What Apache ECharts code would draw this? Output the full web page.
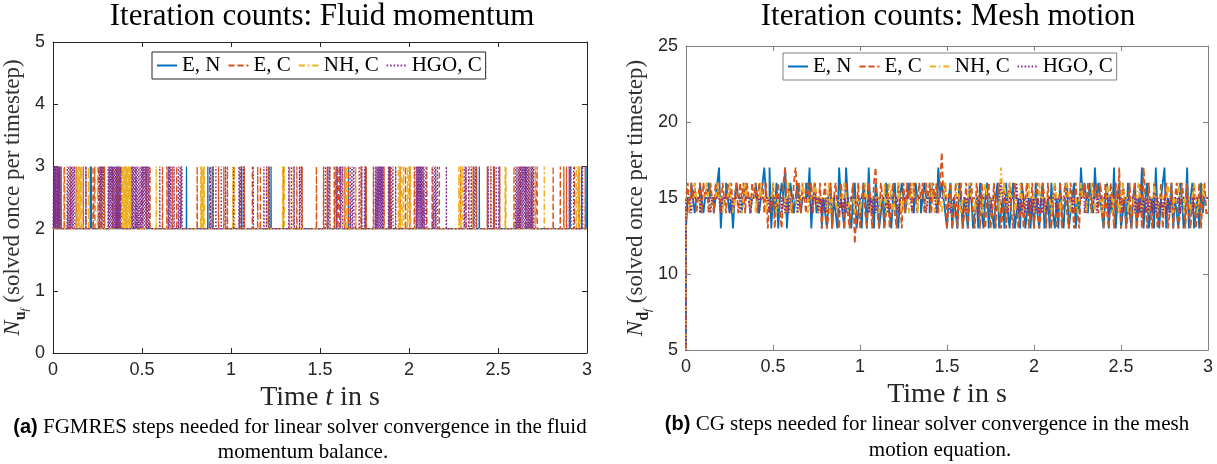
<!DOCTYPE html>
<html>
<head>
<meta charset="utf-8">
<script src="https://cdn.jsdelivr.net/npm/echarts@6/dist/echarts.min.js"></script>
<style>
  html, body { margin: 0; padding: 0; background: #fff; }
  #chart { width: 1217px; height: 464px; }
</style>
</head>
<body>
<div id="chart"></div>
<script>
// ---- panel (a): times (s) at which FGMRES needed 3 steps instead of 2 ----
var aEN = [0.045, 0.21, 0.215, 0.36, 0.75, 0.87, 0.895, 1.06, 1.225, 1.66, 1.755, 1.89, 2.395, 2.905, 2.97, 2.995];
var aEC = [0.025, 0.045, 0.065, 0.1, 0.13, 0.17, 0.185, 0.225, 0.235, 0.255, 0.27, 0.29, 0.335, 0.355, 0.37, 0.38,
  0.41, 0.44, 0.465, 0.5, 0.525, 0.545, 0.615, 0.64, 0.67, 0.695, 0.72, 0.81, 0.88, 0.93, 0.96, 0.98,
  1.05, 1.075, 1.12, 1.15, 1.165, 1.21, 1.295, 1.37, 1.4, 1.48, 1.52, 1.54, 1.58, 1.59, 1.6, 1.61,
  1.64, 1.66, 1.7, 1.73, 1.76, 1.8, 1.86, 1.895, 1.95, 1.98, 2.005, 2.03, 2.08, 2.1, 2.13, 2.17,
  2.29, 2.32, 2.36, 2.38, 2.44, 2.48, 2.51, 2.59, 2.625, 2.655, 2.69, 2.71, 2.72, 2.81, 2.85, 2.87,
  2.885, 2.93, 2.955, 2.99];
var aNH = [0.015, 0.06, 0.135, 0.14, 0.145, 0.15, 0.155, 0.16, 0.2, 0.25, 0.28, 0.39, 0.395, 0.4, 0.405, 0.41,
  0.415, 0.42, 0.425, 0.43, 0.435, 0.44, 0.58, 0.83, 0.835, 0.84, 0.845, 0.85, 0.9, 1.01, 1.02, 1.2,
  1.29, 1.3, 1.33, 1.35, 1.555, 1.63, 1.65, 1.7, 1.94, 1.95, 1.96, 1.97, 1.99, 2.0, 2.01, 2.28,
  2.29, 2.3, 2.34, 2.36, 2.46, 2.54, 2.545, 2.62, 2.67, 2.71, 2.76, 2.94, 2.95, 2.96];
var aHGO = [0.004, 0.008, 0.012, 0.016, 0.02, 0.024, 0.028, 0.032, 0.036, 0.04,
  0.08, 0.088, 0.095, 0.105, 0.112, 0.12, 0.185, 0.26, 0.268, 0.275, 0.283,
  0.31, 0.316, 0.322, 0.328, 0.334, 0.34, 0.346, 0.352, 0.358, 0.364, 0.37, 0.376, 0.382,
  0.445, 0.452, 0.46, 0.468, 0.475, 0.482, 0.49, 0.498, 0.505, 0.512, 0.52, 0.528, 0.535, 0.54,
  0.6, 0.648, 0.655, 0.662, 0.68, 0.705, 0.715, 0.725, 0.885, 0.9, 0.915, 0.945, 0.97,
  1.015, 1.045, 1.055, 1.07, 1.125, 1.185, 1.2, 1.215, 1.325, 1.34, 1.355, 1.385, 1.395,
  1.53, 1.545, 1.555, 1.595, 1.615, 1.625, 1.67, 1.68, 1.69, 1.72, 1.735, 1.75,
  1.81, 1.815, 1.82, 1.825, 1.83, 1.835, 1.84, 1.845, 1.85, 1.855, 1.885, 1.9, 1.91, 1.925,
  2.04, 2.045, 2.05, 2.055, 2.06, 2.065, 2.07, 2.075, 2.085, 2.095, 2.135, 2.145, 2.15, 2.16, 2.21,
  2.31, 2.32, 2.335, 2.35, 2.365, 2.375, 2.445, 2.46, 2.475, 2.49, 2.505,
  2.6, 2.607, 2.614, 2.62, 2.627, 2.634, 2.64, 2.647, 2.654, 2.66, 2.667, 2.674, 2.68, 2.687, 2.694, 2.7,
  2.9, 2.91, 2.925, 2.975];

// ---- panel (b): CG steps, one value every 0.01 s from t = 0 to 3 (one row = 0.2 s) ----
var bEN = [
  4,13,15,15,16,15,14,15,15,16,15,14,15,15,16,15,15,14,15,16,
  17,13,15,15,16,15,14,15,13,15,16,15,15,14,15,16,15,15,14,15,
  15,16,15,14,15,16,17,15,15,17,13,15,14,16,13,15,16,15,17,13,
  15,16,15,14,15,16,15,14,15,15,16,15,17,13,15,16,14,15,15,13,
  15,14,13,15,16,13,15,14,13,17,15,14,13,17,15,14,13,15,16,13,
  14,15,13,16,15,13,17,14,15,13,16,15,13,14,15,13,16,15,14,13,
  15,16,14,13,15,16,15,14,15,16,15,15,14,16,15,15,14,15,16,15,
  15,14,16,15,15,14,17,15,16,15,14,13,15,16,13,15,14,13,16,15,
  13,15,14,13,16,15,13,14,15,13,16,14,13,15,16,13,15,14,13,15,
  16,13,14,15,13,16,14,13,15,16,13,14,15,13,16,15,13,14,15,13,
  15,13,16,14,13,15,16,13,14,15,13,16,14,13,15,13,16,14,13,15,
  16,13,14,15,16,13,15,14,17,15,16,15,14,16,15,14,17,15,16,15,
  14,13,15,16,13,15,14,17,13,15,16,13,14,15,13,16,14,13,15,16,
  13,15,14,17,13,15,16,13,14,15,13,17,14,13,15,16,17,13,15,14,
  16,13,15,14,13,16,15,13,14,17,13,15,16,13,14,15,13,16,14,15,
  15];
var bEC = [
  4,15,16,14,16,15,16,14,15,16,14,16,15,16,14,16,15,14,16,15,
  16,14,16,15,14,16,15,16,14,15,16,14,16,15,16,14,16,15,14,16,
  15,16,14,16,15,16,14,16,13,15,14,16,13,15,16,14,13,16,17,14,
  16,15,14,16,17,15,16,14,16,15,14,16,15,16,14,16,15,14,16,13,
  15,16,13,14,16,13,15,16,14,13,16,15,13,16,14,13,15,16,12,14,
  16,13,15,16,14,13,16,15,13,16,17,14,13,16,15,13,14,16,13,15,
  16,14,13,16,15,13,16,14,16,15,16,14,16,15,14,16,15,16,14,16,
  15,16,14,16,15,16,14,16,18,15,16,13,15,16,13,14,16,13,15,16,
  13,14,16,13,15,16,14,13,16,15,13,16,14,13,15,16,13,14,16,13,
  15,16,13,14,16,13,15,16,14,13,16,15,13,14,16,13,15,16,13,14,
  16,13,15,16,13,14,16,15,13,16,14,13,15,16,13,14,16,13,15,16,
  14,13,16,15,13,16,14,13,16,15,16,14,16,15,14,16,15,16,14,16,
  15,13,16,14,13,16,15,13,16,14,17,13,16,15,13,14,16,13,15,16,
  13,14,16,13,17,15,13,16,14,13,16,15,13,14,16,13,15,16,13,14,
  16,13,15,16,13,14,16,15,13,16,14,13,15,16,13,14,16,13,15,16,
  14];
var bNH = [
  4,15,15,14,15,15,16,15,15,14,15,15,15,16,15,14,15,15,15,16,
  15,15,14,15,15,15,16,15,14,15,15,15,15,14,15,16,15,15,14,15,
  15,14,15,15,16,15,15,14,15,15,15,16,15,14,15,15,15,15,14,15,
  16,14,15,15,15,14,15,15,16,15,15,14,15,15,15,16,15,14,15,15,
  15,15,14,16,14,15,15,15,14,15,15,15,16,15,14,15,15,15,14,15,
  15,14,15,15,16,15,15,14,15,15,15,15,14,15,15,16,14,15,16,15,
  14,15,15,16,15,14,15,15,15,14,15,16,15,15,14,15,15,15,15,14,
  15,15,16,15,14,15,15,15,14,15,16,15,15,14,15,15,15,16,15,14,
  15,15,14,15,16,15,15,14,15,15,15,14,15,16,15,15,14,15,15,15,
  15,14,17,15,16,15,14,16,15,15,14,15,15,16,15,14,15,15,16,15,
  15,14,15,15,16,15,15,14,15,15,15,14,15,16,15,15,14,15,15,15,
  16,15,14,15,15,15,14,15,16,15,15,14,15,15,16,15,14,15,15,15,
  14,15,15,16,15,15,14,15,15,15,14,15,16,15,15,14,15,15,15,14,
  15,16,15,14,15,15,15,14,15,15,16,15,14,15,15,15,14,15,16,15,
  15,14,15,15,16,15,15,14,15,15,15,14,15,16,15,14,15,15,16,15,
  15];
var bHGO = [
  4,15,15,15,14,15,15,15,15,14,15,15,15,15,15,14,15,15,15,15,
  15,14,15,15,15,15,15,14,15,15,15,15,14,15,15,15,15,15,14,15,
  15,15,15,14,15,15,15,15,15,14,15,15,15,15,15,15,14,15,14,15,
  14,15,15,15,15,14,15,15,15,15,15,15,15,14,15,15,15,14,15,14,
  15,14,15,15,15,15,15,15,15,14,15,14,15,14,15,15,15,15,15,15,
  15,15,15,15,15,15,14,15,14,15,14,15,15,15,15,15,15,14,15,15,
  15,15,15,14,15,15,15,15,15,15,15,14,15,15,15,15,15,15,15,14,
  15,15,15,15,15,14,15,15,15,15,15,15,15,14,15,15,15,15,15,15,
  15,15,14,15,15,15,15,15,15,14,15,15,15,15,15,15,14,15,15,15,
  15,15,16,15,15,15,14,15,15,15,15,16,14,15,14,15,14,15,14,15,
  14,15,14,15,14,15,14,15,14,15,15,15,15,15,14,15,15,15,15,15,
  15,15,15,14,15,15,15,15,15,15,14,15,15,15,15,15,15,14,15,15,
  15,15,15,15,14,15,15,15,15,15,15,15,14,15,15,15,15,15,15,14,
  15,14,15,14,15,14,15,14,15,14,15,14,15,14,15,14,15,14,15,14,
  15,15,15,15,15,14,15,15,15,15,15,15,14,15,15,15,15,15,15,15,
  15];
var bStep = 0.01;

var names = ['E, N', 'E, C', 'NH, C', 'HGO, C'];
var colors = ['#0072BD', '#D95319', '#EDB120', '#7E2F8E'];
var dashes = ['solid', [6, 3], [6, 3, 1.5, 3], [1.5, 2]];

// baseline of 2 with a short pulse up to 3 at each listed time
function pulses(times) {
    var d = [[0, 2]];
    times.forEach(function (t) {
        d.push([t - 0.001, 2], [t, 3], [t + 0.001, 2]);
    });
    d.push([3, 2]);
    return d;
}

function steps(vals) {
    return vals.map(function (v, i) { return [i * bStep, v]; });
}

var serif = 'Liberation Serif';
var sans = 'Liberation Sans';

function xAxes(grid, frame) {
    return [{
        gridIndex: grid, type: 'value', min: 0, max: 3, interval: 0.5,
        axisLine: { show: true, onZero: false, lineStyle: { color: frame, width: 1 } },
        axisTick: { show: true, inside: true, length: 5, lineStyle: { color: frame } },
        axisLabel: { color: '#262626', fontSize: 18, fontFamily: sans, margin: 8, showMinLabel: true, showMaxLabel: true },
        splitLine: { show: false },
        name: '{r|Time }{i|t}{r| in s}', nameLocation: 'middle', nameGap: 24,
        nameTextStyle: {
            color: '#262626', fontFamily: serif, fontSize: 28,
            rich: {
                r: { fontFamily: serif, fontSize: 28, color: '#262626' },
                i: { fontFamily: serif, fontSize: 28, fontStyle: 'italic', color: '#262626' }
            }
        }
    }, {
        gridIndex: grid, type: 'value', min: 0, max: 3, interval: 0.5, position: 'top',
        axisLine: { show: true, onZero: false, lineStyle: { color: frame, width: 1 } },
        axisTick: { show: true, inside: true, length: 5, lineStyle: { color: frame } },
        axisLabel: { show: false }, splitLine: { show: false }
    }];
}

function yAxes(grid, frame, min, max, interval, sub) {
    var rich = {
        n: { fontFamily: serif, fontSize: 23, fontStyle: 'italic', color: '#262626', verticalAlign: 'bottom', padding: [0, 0, 7, 0] },
        s: { fontFamily: serif, fontSize: 16, fontWeight: 'bold', color: '#262626', verticalAlign: 'bottom', padding: [0, 0, 2, 0] },
        f: { fontFamily: serif, fontSize: 11, fontStyle: 'italic', color: '#262626', verticalAlign: 'bottom', padding: [0, 0, 0, 0] },
        r: { fontFamily: serif, fontSize: 23, color: '#333', verticalAlign: 'bottom', padding: [0, 0, 7, 0] }
    };
    return [{
        gridIndex: grid, type: 'value', min: min, max: max, interval: interval,
        axisLine: { show: true, onZero: false, lineStyle: { color: frame, width: 1 } },
        axisTick: { show: true, inside: true, length: 5, lineStyle: { color: frame } },
        axisLabel: { color: '#262626', fontSize: 18, fontFamily: sans, margin: 8, showMinLabel: true, showMaxLabel: true },
        splitLine: { show: false },
        name: '{n|N}{s|' + sub + '}{f|f}{r| (solved once per timestep)}',
        nameLocation: 'middle', nameGap: 12,
        nameTextStyle: { fontFamily: serif, fontSize: 23, color: '#262626', rich: rich }
    }, {
        gridIndex: grid, type: 'value', min: min, max: max, interval: interval, position: 'right',
        axisLine: { show: true, onZero: false, lineStyle: { color: frame, width: 1 } },
        axisTick: { show: true, inside: true, length: 5, lineStyle: { color: frame } },
        axisLabel: { show: false }, splitLine: { show: false }
    }];
}

function makeSeries(axis, datas, isStep, width) {
    return datas.map(function (d, k) {
        return {
            name: names[k], type: 'line', xAxisIndex: axis, yAxisIndex: axis,
            data: d, showSymbol: false, symbol: 'none', step: isStep ? 'start' : false,
            clip: true, animation: false, silent: true,
            lineStyle: { color: colors[k], width: width, type: dashes[k] },
            itemStyle: { color: colors[k] }
        };
    });
}

function legend(left, top, frame) {
    return {
        left: left, top: top, orient: 'horizontal',
        data: names, itemWidth: 20, itemHeight: 10, itemGap: 7,
        padding: [3, 4], borderColor: frame, borderWidth: 1, backgroundColor: '#fff',
        itemStyle: { opacity: 0 },
        textStyle: { fontFamily: serif, fontSize: 21, color: '#000' },
        selectedMode: false
    };
}

function caption(x, y, text, label) {
    return {
        type: 'text', x: x, y: y,
        style: {
            text: label ? '{b|' + label + '}{r| ' + text + '}' : '{r|' + text + '}',
            align: 'center', verticalAlign: 'middle', textAlign: 'center', textVerticalAlign: 'middle',
            rich: {
                b: { fontFamily: sans, fontWeight: 'bold', fontSize: 20, fill: '#000' },
                r: { fontFamily: serif, fontSize: 21, fill: '#000' }
            }
        }
    };
}

function heading(x, text) {
    return {
        type: 'text', x: x, y: 17,
        style: {
            text: text, fill: '#000', font: '31px "Liberation Serif"',
            align: 'center', verticalAlign: 'middle', textAlign: 'center', textVerticalAlign: 'middle'
        }
    };
}

var chart = echarts.init(document.getElementById('chart'), null, { renderer: 'canvas' });

var option = {
    animation: false,
    backgroundColor: '#fff',
    grid: [
        { left: 53, top: 42, width: 534, height: 311 },
        { left: 686, top: 46, width: 522, height: 304 }
    ],
    xAxis: xAxes(0, '#262626').concat(xAxes(1, '#808080')),
    yAxis: yAxes(0, '#262626', 0, 5, 1, 'u').concat(yAxes(1, '#808080', 5, 25, 5, 'd')),
    legend: [legend(152, 52, '#262626'), legend(783, 53, '#808080')],
    series: makeSeries(0, [pulses(aEN), pulses(aEC), pulses(aNH), pulses(aHGO)], false, 1.3)
        .concat(makeSeries(2, [steps(bEN), steps(bEC), steps(bNH), steps(bHGO)], true, 1.8)),
    graphic: [
        heading(322, 'Iteration counts: Fluid momentum'),
        heading(948, 'Iteration counts: Mesh motion'),
        caption(300, 427, 'FGMRES steps needed for linear solver convergence in the fluid', '(a)'),
        caption(303, 452, 'momentum balance.'),
        caption(927, 424, 'CG steps needed for linear solver convergence in the mesh', '(b)'),
        caption(940, 450, 'motion equation.')
    ]
};

chart.setOption(option);
</script>
</body>
</html>
